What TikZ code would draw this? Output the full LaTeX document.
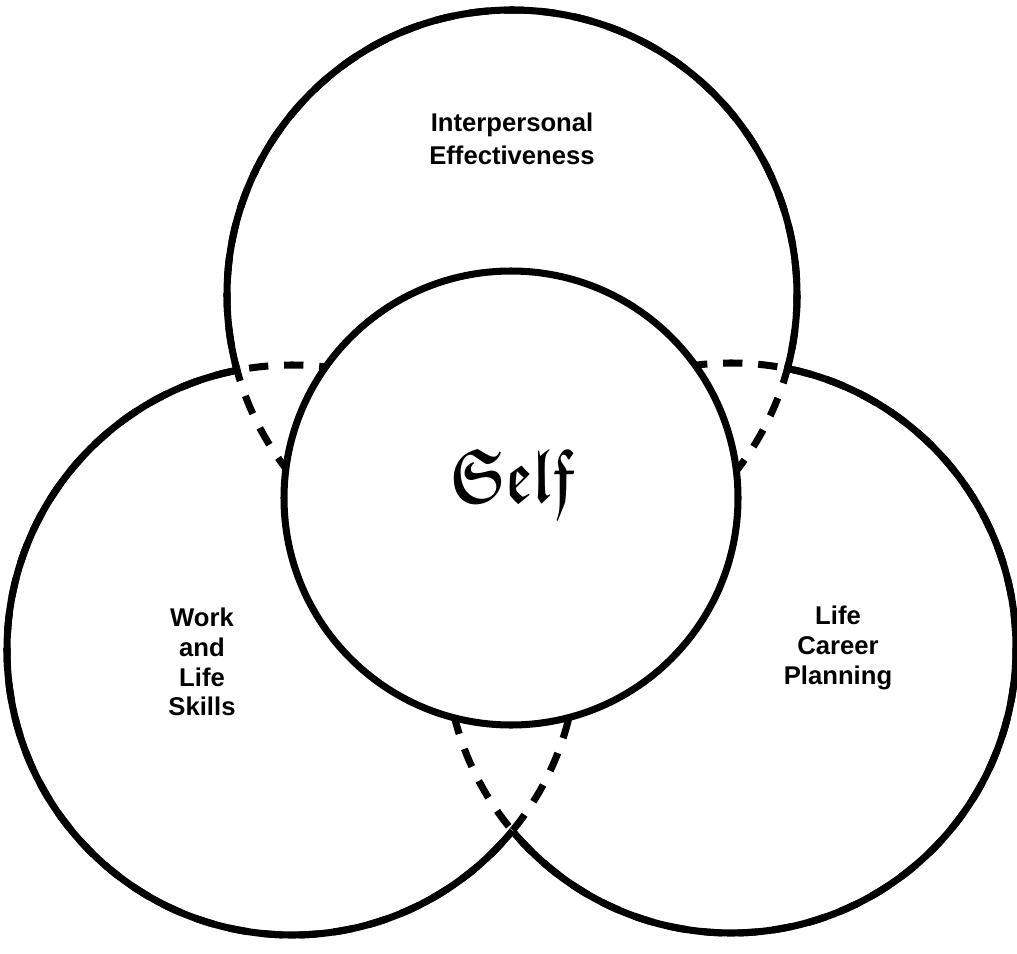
\documentclass[tikz,border=0pt]{standalone}
\usepackage{amsmath, amssymb}
\usepackage{graphicx}
\usepackage{fontspec}
\setmainfont{Liberation Sans}
\usepackage{tikz}

\begin{document}
\begin{tikzpicture}[
    x=0.02cm, y=-0.02cm,
    ring/.style={line width=4pt},
    hidden/.style={line width=4pt, dash pattern=on 11pt off 9pt},
    label/.style={align=center, font=\fontsize{14.6}{17}\selectfont\bfseries}
]
\useasboundingbox (0,0) rectangle (1017,953);
\coordinate (top) at (512,295);
\coordinate (work) at (292,650);
\coordinate (life) at (731,648);
\coordinate (self) at (511,498);
% overlapping parts of the outer circles
\foreach \c in {top,work,life}
  \draw[hidden] (\c) circle (285);
% free parts of the outer circles
\foreach \c/\a/\b in {top/work/life,work/top/life,life/top/work}{
  \begin{scope}[even odd rule]
    \clip (-20,-20) rectangle (1040,980) (\a) circle (285);
    \clip (-20,-20) rectangle (1040,980) (\b) circle (285);
    \draw[ring] (\c) circle (285);
  \end{scope}
}
\draw[ring, fill=white] (self) circle (227);
\node[label, font=\fontsize{14.6}{18.8}\selectfont\bfseries] (inter) at (512,139) {Interpersonal\\Effectiveness};
\node[label] (skills) at (202,662) {Work\\and\\Life\\Skills};
\node[label] (career) at (838,648) {Life\\Career\\Planning};
\node (selftext) at (512,483) {\scalebox{0.78}[1.05]{\fontsize{42}{44}\selectfont$\boldsymbol{\mathfrak{Self}}$}};
\end{tikzpicture}
\end{document}
